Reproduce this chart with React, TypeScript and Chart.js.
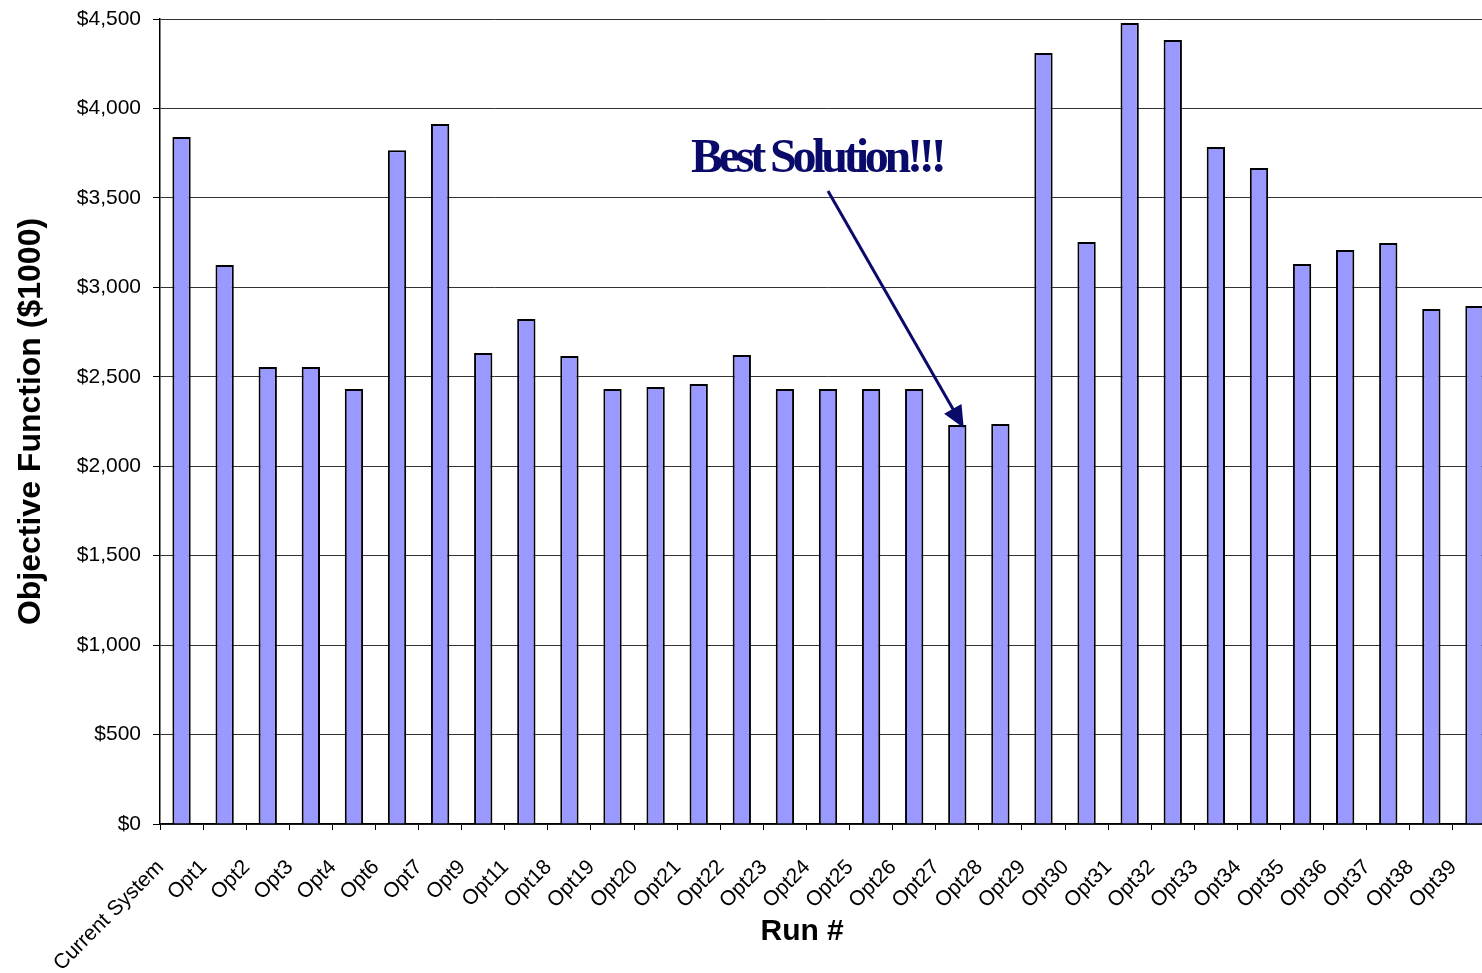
import React, { useEffect, useRef } from 'react';
import { Chart, registerables } from 'chart.js';

Chart.register(...registerables);

// ---- Data ----
const categories = [
  'Current System', 'Opt1', 'Opt2', 'Opt3', 'Opt4', 'Opt6', 'Opt7', 'Opt9', 'Opt11', 'Opt18',
  'Opt19', 'Opt20', 'Opt21', 'Opt22', 'Opt23', 'Opt24', 'Opt25', 'Opt26', 'Opt27', 'Opt28',
  'Opt29', 'Opt30', 'Opt31', 'Opt32', 'Opt33', 'Opt34', 'Opt35', 'Opt36', 'Opt37', 'Opt38', 'Opt39',
];
const objectiveValues = [
  3840, 3125, 2554, 2554, 2431, 3767, 3913, 2633, 2823, 2616,
  2431, 2443, 2459, 2622, 2431, 2431, 2431, 2431, 2230, 2236,
  4310, 3253, 4477, 4382, 3784, 3667, 3130, 3208, 3248, 2879, 2895,
];
const yTickValues = [0, 500, 1000, 1500, 2000, 2500, 3000, 3500, 4000, 4500];
const yTickLabels = ['$0', '$500', '$1,000', '$1,500', '$2,000', '$2,500', '$3,000', '$3,500', '$4,000', '$4,500'];

const yAxisTitle = 'Objective Function ($1000)';
const xAxisTitle = 'Run #';
const calloutText = 'Best Solution!!!';
// annotation anchors in data space: [category index, value]
const calloutTextAt = [11.82, 3645];
const arrowFrom = [15.0, 3538];
const arrowTo = [18.15, 2214];
const xTitleAt = 14.4;

const NAVY = '#0a0a6b';

const annotationPlugin = {
  id: 'bestSolutionCallout',
  afterDatasetsDraw(chart: any) {
    const { ctx, scales } = chart;
    const x = scales.x;
    const y = scales.y;
    ctx.save();
    // text
    ctx.font = 'bold 48px "Liberation Serif", "Times New Roman", serif';
    (ctx as any).letterSpacing = '-4.2px';
    ctx.fillStyle = NAVY;
    ctx.textAlign = 'left';
    ctx.textBaseline = 'alphabetic';
    ctx.fillText(calloutText, x.getPixelForValue(calloutTextAt[0]), y.getPixelForValue(calloutTextAt[1]));
    (ctx as any).letterSpacing = '0px';

    // arrow
    const x1 = x.getPixelForValue(arrowFrom[0]);
    const y1 = y.getPixelForValue(arrowFrom[1]);
    const x2 = x.getPixelForValue(arrowTo[0]);
    const y2 = y.getPixelForValue(arrowTo[1]);
    const dx = x2 - x1;
    const dy = y2 - y1;
    const len = Math.sqrt(dx * dx + dy * dy);
    const ux = dx / len;
    const uy = dy / len;
    const headLen = 22;
    const headHalf = 10;
    const bx = x2 - ux * headLen;
    const by = y2 - uy * headLen;
    ctx.strokeStyle = NAVY;
    ctx.lineWidth = 3;
    ctx.beginPath();
    ctx.moveTo(x1, y1);
    ctx.lineTo(bx + ux * 2, by + uy * 2);
    ctx.stroke();
    ctx.beginPath();
    ctx.moveTo(x2, y2);
    ctx.lineTo(bx - uy * headHalf, by + ux * headHalf);
    ctx.lineTo(bx + uy * headHalf, by - ux * headHalf);
    ctx.closePath();
    ctx.fillStyle = NAVY;
    ctx.fill();
    ctx.restore();
  },
  afterDraw(chart: any) {
    const { ctx, scales } = chart;
    ctx.save();
    ctx.font = 'bold 30px "Liberation Sans", Arial, sans-serif';
    ctx.fillStyle = '#000';
    ctx.textAlign = 'center';
    ctx.textBaseline = 'alphabetic';
    ctx.fillText(xAxisTitle, scales.x.getPixelForValue(xTitleAt), chart.height - 33);
    ctx.restore();
  },
};

export default function App() {
  const canvasRef = useRef<HTMLCanvasElement | null>(null);

  useEffect(() => {
    if (!canvasRef.current) return;
    const chart = new Chart(canvasRef.current, {
      type: 'bar',
      data: {
        labels: categories,
        datasets: [
          {
            label: 'Objective Function',
            data: objectiveValues,
            backgroundColor: '#9999ff',
            borderColor: '#000000',
            borderWidth: 2,
            barPercentage: 0.425,
            categoryPercentage: 1.0,
          },
        ],
      },
      options: {
        responsive: false,
        animation: false,
        devicePixelRatio: 1,
        layout: { padding: { top: 19, left: 0, right: 0, bottom: 0 } },
        plugins: {
          legend: { display: false },
          tooltip: { enabled: false },
        },
        scales: {
          x: {
            offset: true,
            grid: {
              drawOnChartArea: false,
              drawTicks: true,
              tickLength: 6,
              color: '#000',
              lineWidth: 1,
              offset: true,
            },
            border: { color: '#000', width: 1.5 },
            ticks: {
              autoSkip: false,
              maxRotation: 45,
              minRotation: 45,
              labelOffset: -21,
              padding: 25,
              color: '#000',
              font: { family: '"Liberation Sans", Arial, sans-serif', size: 21 },
            },
            afterFit(scale: any) {
              scale.height = 149;
              scale.paddingLeft = 0;
              scale.paddingRight = 0;
            },
          },
          y: {
            min: 0,
            max: 4500,
            afterBuildTicks(scale: any) {
              scale.ticks = yTickValues.map((v) => ({ value: v }));
            },
            grid: {
              color: '#333',
              lineWidth: 1,
              tickLength: 7,
              tickColor: '#000',
            },
            border: { color: '#000', width: 1.5 },
            ticks: {
              padding: 12,
              color: '#000',
              font: { family: '"Liberation Sans", Arial, sans-serif', size: 21 },
              callback: (value: any) => {
                const i = yTickValues.indexOf(Number(value));
                return i >= 0 ? yTickLabels[i] : '';
              },
            },
            title: {
              display: true,
              text: yAxisTitle,
              color: '#000',
              padding: { top: 12, bottom: 0 },
              font: { family: '"Liberation Sans", Arial, sans-serif', size: 32, weight: 'bold' },
            },
            afterFit(scale: any) {
              scale.width = 160;
              scale.paddingTop = 0;
              scale.paddingBottom = 0;
            },
          },
        },
      },
      plugins: [annotationPlugin],
    });
    return () => chart.destroy();
  }, []);

  return (
    <div
      style={{
        position: 'fixed',
        left: 0,
        top: 0,
        width: 1482,
        height: 973,
        overflow: 'hidden',
        background: '#fff',
      }}
    >
      <canvas ref={canvasRef} width={1496} height={973} style={{ display: 'block' }} />
    </div>
  );
}
